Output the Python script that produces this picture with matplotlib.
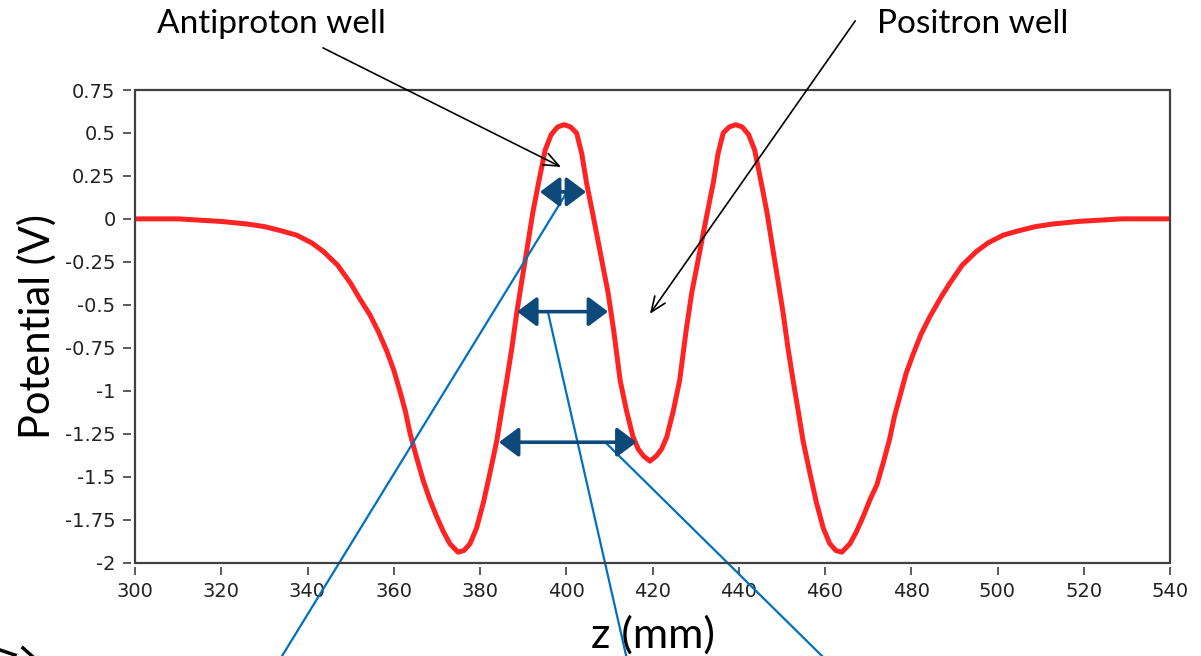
import matplotlib.pyplot as plt
from matplotlib.patches import Rectangle, FancyArrowPatch
from matplotlib.lines import Line2D

plt.rcParams['axes.unicode_minus'] = False

# on-axis potential along the trap (z in mm, potential in V)
z_mm = [300, 310, 320, 326, 330, 334, 337.5, 341, 343.7, 347, 350, 352, 354.5,
        356.5, 358.4, 360, 361.4, 362.7, 363.8, 365.3, 366.8, 368.3, 369.9,
        371.5, 373.0, 374.9, 376.3, 377.7, 379.2, 380.8, 382.3, 383.9, 385.0,
        386.2, 387.4, 388.5, 389.7, 391.0, 392.2, 393.5, 395.1, 396.5, 398.0,
        399.5, 401.0, 402.4, 403.6, 404.7, 405.9, 407.0, 408.3, 409.7, 411.0,
        412.5, 414.0, 415.5, 416.7, 417.9, 419.4, 420.9, 422.1, 423.3, 424.8,
        426.3, 427.8, 429.1, 430.5, 431.8, 432.9, 434.1, 435.2, 436.4, 437.8,
        439.3, 440.8, 442.3, 443.7, 445.3, 446.6, 447.8, 449.1, 450.3, 451.4,
        452.6, 453.8, 454.9, 456.5, 458.0, 459.6, 461.1, 462.5, 463.9, 465.8,
        467.3, 468.9, 470.5, 472.0, 473.5, 475.0, 476.1, 477.4, 478.8, 480.4,
        482.3, 484.3, 486.8, 488.8, 491.8, 495.1, 497.8, 501.3, 504.8, 508.8,
        512.8, 518.8, 528.8, 540]
potential_v = [0.0, 0.0, -0.015, -0.03, -0.045, -0.07, -0.095, -0.14, -0.19,
               -0.27, -0.375, -0.46, -0.56, -0.66, -0.77, -0.88, -1.0, -1.12,
               -1.25, -1.39, -1.52, -1.63, -1.73, -1.82, -1.89, -1.94, -1.93,
               -1.89, -1.80, -1.65, -1.48, -1.29, -1.12, -0.94, -0.75, -0.55,
               -0.36, -0.16, 0.03, 0.20, 0.40, 0.49, 0.535, 0.548, 0.535, 0.50,
               0.38, 0.21, 0.06, -0.08, -0.25, -0.43, -0.65, -0.94, -1.12,
               -1.27, -1.34, -1.38, -1.41, -1.38, -1.34, -1.27, -1.12, -0.94,
               -0.65, -0.43, -0.25, -0.08, 0.06, 0.21, 0.38, 0.50, 0.535,
               0.548, 0.535, 0.49, 0.40, 0.20, 0.03, -0.16, -0.36, -0.55,
               -0.75, -0.94, -1.12, -1.29, -1.48, -1.65, -1.80, -1.89, -1.93,
               -1.94, -1.89, -1.82, -1.73, -1.63, -1.55, -1.42, -1.28, -1.15,
               -1.03, -0.90, -0.79, -0.67, -0.57, -0.46, -0.38, -0.27, -0.19,
               -0.14, -0.095, -0.07, -0.045, -0.03, -0.015, 0.0, 0.0]

x_ticks = list(range(300, 541, 20))
y_ticks = [0.75, 0.5, 0.25, 0, -0.25, -0.5, -0.75, -1, -1.25, -1.5, -1.75, -2]
y_tick_labels = ['0.75', '0.5', '0.25', '0', '-0.25', '-0.5', '-0.75', '-1',
                 '-1.25', '-1.5', '-1.75', '-2']

# widths of the antiproton well at three depths: (level V, z left, z right)
well_widths = [(0.157, 393.9, 404.6),
               (-0.54, 388.6, 409.7),
               (-1.30, 384.4, 416.3)]

W, H = 1201, 656
fig = plt.figure(figsize=(W / 100, H / 100), dpi=100)
ax = fig.add_axes([135 / W, 1 - 562.5 / H, 1035 / W, 472.5 / H])

ax.plot(z_mm, potential_v, color='#ff2323', lw=3.6, solid_joinstyle='round',
        zorder=3)
ax.set_xlim(300, 540)
ax.set_ylim(-2, 0.75)

# frame drawn separately so the ticks sit a few pixels off it
for side in ['left', 'right', 'top', 'bottom']:
    ax.spines[side].set_visible(False)
ax.spines['left'].set_position(('outward', 3))
ax.spines['bottom'].set_position(('outward', 3))
ax.add_patch(Rectangle((0, 0), 1, 1, transform=ax.transAxes, fill=False,
                       ec='#404040', lw=1.6, zorder=5, clip_on=False))

ax.set_xticks(x_ticks)
ax.set_xticklabels([str(t) for t in x_ticks])
ax.set_yticks(y_ticks)
ax.set_yticklabels(y_tick_labels)
ax.tick_params(direction='out', length=6, width=1.2, color='#404040',
               labelcolor='#222222', labelsize=14, pad=5)
for lab in ax.get_xticklabels() + ax.get_yticklabels():
    lab.set_family('DejaVu Sans')

ax.set_xlabel('z (mm)', family='Lato', fontsize=31, labelpad=10)
ax.set_ylabel('Potential (V)', family='Lato', fontsize=30, labelpad=6)

# double-headed markers across the well
for level, z_left, z_right in well_widths:
    arr = FancyArrowPatch((z_left, level), (z_right, level),
                          arrowstyle='<|-|>,head_length=0.6,head_width=0.45',
                          mutation_scale=20, color='#0d4a7a', lw=2.6,
                          shrinkA=0, shrinkB=0, zorder=6)
    ax.add_patch(arr)

# leader lines running down off the chart
leaders = [((399.9, 0.145), (334.1, -2.544)),
           ((395.8, -0.548), (413.9, -2.544)),
           ((409.2, -1.304), (459.3, -2.544))]
for (z0, v0), (z1, v1) in leaders:
    ax.plot([z0, z1], [v0, v1], color='#0070c0', lw=1.6, clip_on=False,
            zorder=4)

# well labels
fig.text(157 / W, 1 - 33 / H, 'Antiproton well', family='Lato', fontsize=24,
         ha='left', va='baseline')
fig.text(877 / W, 1 - 33 / H, 'Positron well', family='Lato', fontsize=24,
         ha='left', va='baseline')
pointer = dict(arrowstyle='->,head_length=1.1,head_width=0.45',
               color='black', lw=1.2, shrinkA=0, shrinkB=0)
ax.annotate('', xy=(398.8, 0.302), xytext=(343.6, 0.995),
            arrowprops=pointer, annotation_clip=False, zorder=7)
ax.annotate('', xy=(419.4, -0.553), xytext=(467.0, 1.152),
            arrowprops=pointer, annotation_clip=False, zorder=7)

# stray chevron strokes at the lower left corner
for xs, ys in [([0, 15], [650, 655]), ([23, 32], [648, 656])]:
    fig.add_artist(Line2D([x / W for x in xs], [1 - y / H for y in ys],
                          transform=fig.transFigure, color='black', lw=2.5))

fig.savefig('out.png', dpi=100)
